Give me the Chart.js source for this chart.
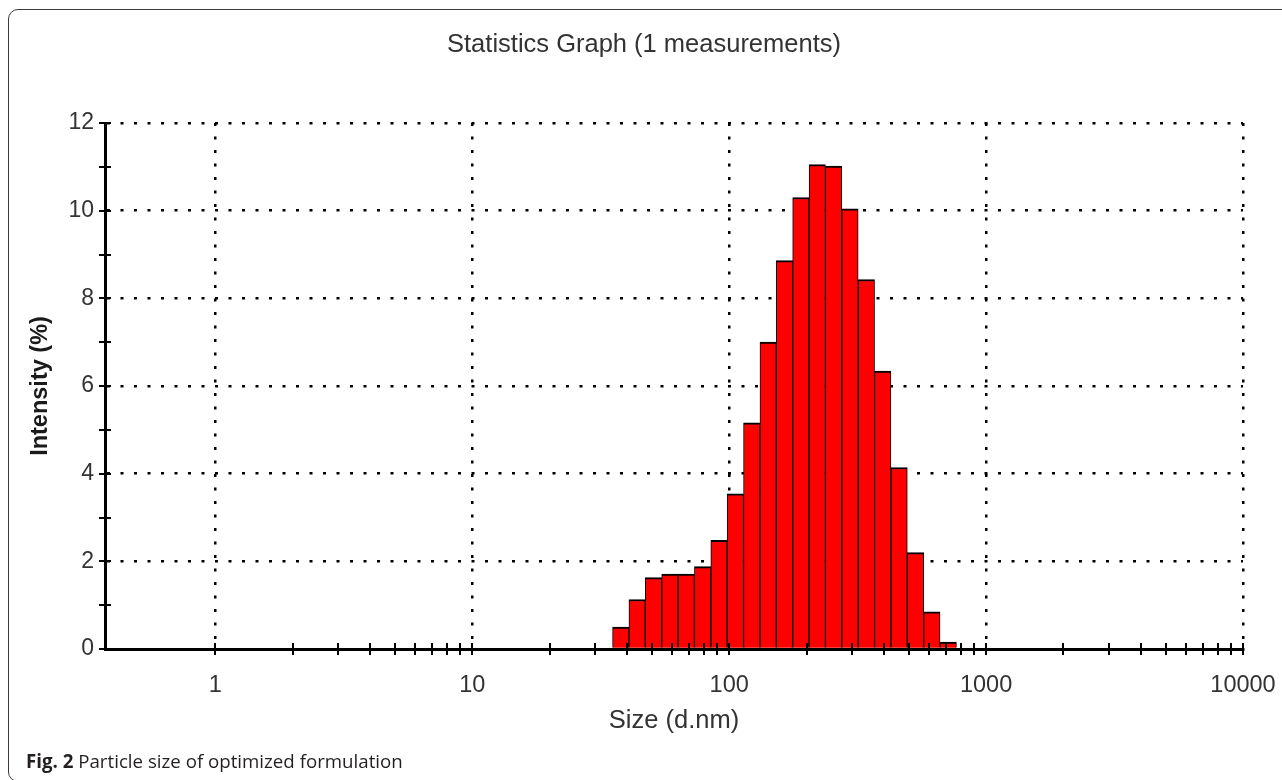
<!DOCTYPE html>
<html>
<head>
<meta charset="utf-8">
<title>Statistics Graph</title>
<script src="https://cdn.jsdelivr.net/npm/chart.js@4.4.1/dist/chart.umd.min.js"></script>
<style>
  html, body { margin: 0; padding: 0; background: #ffffff; }
  #wrap { position: relative; width: 1282px; height: 780px; overflow: hidden; background: #fff; }
  #frame {
    position: absolute; left: 8px; top: 9px; width: 1300px; height: 773px;
    border: 1.5px solid #3a3a3a; border-radius: 10px; box-sizing: border-box;
  }
  #chart { position: absolute; left: 0; top: 0; }
  #caption {
    position: absolute; left: 26px; top: 752px; line-height: 18px;
    font-family: "Open Sans", "Noto Sans", sans-serif; font-size: 18.7px; color: #231f20;
    white-space: nowrap;
  }
  #caption b { font-weight: 700; }
</style>
</head>
<body>
<div id="wrap">
  <div id="frame"></div>
  <canvas id="chart" width="1282" height="780"></canvas>
  <div id="caption"><b>Fig. 2</b> Particle size of optimized formulation</div>
</div>
<script>
// Size classes (d.nm) of the histogram bins and their intensity (%)
const sizeBins = [37.84, 43.82, 50.75, 58.77, 68.06, 78.82, 91.28, 105.7, 122.4, 141.8, 164.2,
                  190.1, 220.2, 255.0, 295.3, 342.0, 396.1, 458.7, 531.2, 615.1, 712.4];
const intensity = [0.5, 1.13, 1.63, 1.71, 1.71, 1.88, 2.48, 3.54, 5.16, 7.0, 8.86,
                   10.3, 11.05, 11.02, 10.04, 8.43, 6.34, 4.14, 2.2, 0.85, 0.16];

// Axis ticks
const xMajorTicks = [1, 10, 100, 1000, 10000];
const xTickLabels = ['1', '10', '100', '1000', '10000'];
const xMinorTicks = [2, 3, 4, 5, 6, 7, 8, 9,
                     20, 30, 40, 50, 60, 70, 80, 90,
                     200, 300, 400, 500, 600, 700, 800, 900,
                     2000, 3000, 4000, 5000, 6000, 7000, 8000, 9000];
const yMajorTicks = [0, 2, 4, 6, 8, 10, 12];
const yMinorTicks = [1, 3, 5, 7, 9, 11];

const FONT = "'Liberation Sans', Arial, sans-serif";
const TEXT = '#333333';

// Short marks that cross both axes at every tick position
const crossTicks = {
  id: 'crossTicks',
  afterDatasetsDraw(chart) {
    const { ctx, scales: { x, y } } = chart;
    const half = 6;
    ctx.save();
    ctx.strokeStyle = '#000';
    ctx.lineWidth = 2;
    ctx.beginPath();
    const y0 = y.getPixelForValue(0);
    xMajorTicks.concat(xMinorTicks).forEach(v => {
      const px = Math.round(x.getPixelForValue(v));
      ctx.moveTo(px, y0 - half);
      ctx.lineTo(px, y0 + half);
    });
    const x0 = x.left;
    yMajorTicks.concat(yMinorTicks).forEach(v => {
      const py = Math.round(y.getPixelForValue(v));
      ctx.moveTo(x0 - half, py);
      ctx.lineTo(x0 + half, py);
    });
    ctx.stroke();
    ctx.restore();
  }
};

new Chart(document.getElementById('chart'), {
  type: 'bar',
  data: {
    datasets: [{
      label: 'Intensity',
      data: sizeBins.map((s, i) => ({ x: s, y: intensity[i] })),
      backgroundColor: '#ff0000',
      borderColor: '#000000',
      borderWidth: { top: 2, left: 1, right: 1, bottom: 0 },
      borderSkipped: 'start',
      categoryPercentage: 1.0,
      barPercentage: 1.0
    }]
  },
  options: {
    responsive: false,
    animation: false,
    layout: { padding: { left: 45, right: 39, top: 0, bottom: 0 } },
    plugins: {
      legend: { display: false },
      tooltip: { enabled: false },
      title: {
        display: true,
        text: 'Statistics Graph (1 measurements)',
        color: TEXT,
        font: { family: FONT, size: 25.5, weight: 'normal', lineHeight: 1.2 },
        padding: { top: 30, bottom: 62.4 }
      }
    },
    scales: {
      x: {
        type: 'logarithmic',
        min: 0.372,
        max: 10000,
        offset: false,
        afterBuildTicks(scale) {
          scale.ticks = xMajorTicks.map(v => ({ value: v, major: true }));
        },
        afterFit(scale) {
          scale.height = 131;
          scale.paddingLeft = 0;
          scale.paddingRight = 0;
        },
        ticks: {
          autoSkip: false,
          maxRotation: 0,
          padding: 22,
          color: TEXT,
          font: { family: FONT, size: 23.5 },
          callback(value) {
            const i = xMajorTicks.indexOf(Number(value));
            return i >= 0 ? xTickLabels[i] : '';
          }
        },
        grid: { offset: false, color: '#000', lineWidth: 2.5, drawTicks: false },
        border: { display: true, color: '#000', width: 3, dash: [3, 10.5], z: 1 },
        title: {
          display: true,
          text: 'Size (d.nm)',
          color: TEXT,
          font: { family: FONT, size: 25.5 },
          padding: { top: 0, bottom: 44 }
        }
      },
      y: {
        type: 'linear',
        min: 0,
        max: 12,
        afterBuildTicks(scale) {
          scale.ticks = yMajorTicks.map(v => ({ value: v }));
        },
        afterFit(scale) { scale.width = 60; },
        ticks: {
          padding: 11,
          color: TEXT,
          font: { family: FONT, size: 23 }
        },
        grid: {
          color: ctx => (ctx.tick && ctx.tick.value === 0 ? 'rgba(0,0,0,0)' : '#000'),
          lineWidth: 2.5,
          drawTicks: false
        },
        border: { display: true, color: '#000', width: 3, dash: [3, 10.5], z: 1 },
        title: {
          display: true,
          text: 'Intensity (%)',
          color: '#1a1a1a',
          font: { family: FONT, size: 23.5, weight: 'bold' },
          padding: { top: -19, bottom: 0 }
        }
      }
    }
  },
  plugins: [crossTicks]
});
</script>
</body>
</html>
